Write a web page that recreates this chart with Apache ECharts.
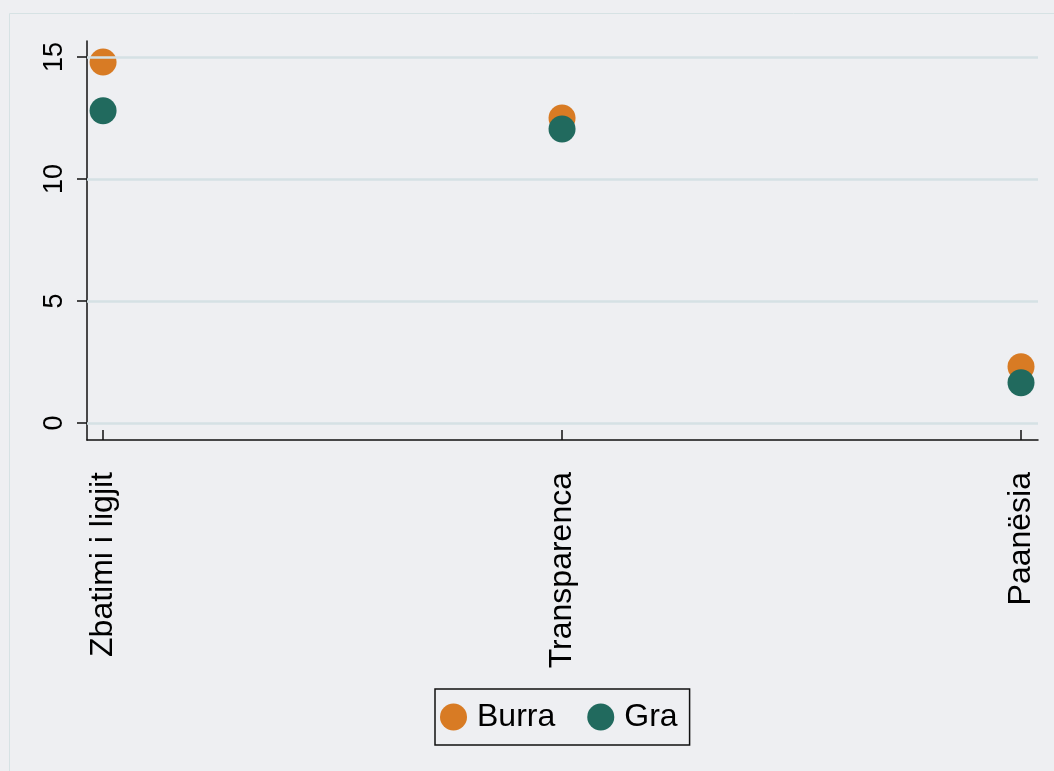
<!DOCTYPE html>
<html>
<head>
<meta charset="utf-8">
<title>Burra / Gra</title>
<script src="https://cdn.jsdelivr.net/npm/echarts@6/dist/echarts.min.js"></script>
<style>
  html, body { margin: 0; padding: 0; background: #eeeff2; }
  #chart { width: 1054px; height: 771px; }
</style>
</head>
<body>
<div id="chart"></div>
<script>
const categories = ['Zbatimi i ligjit', 'Transparenca', 'Paanësia']
const burra = [14.8, 12.5, 2.3]
const gra = [12.8, 12.05, 1.65]
const yTicks = [0, 5, 10, 15]

const font = '"Liberation Sans", Arial, Helvetica, sans-serif'
const orange = '#d87b24'
const green = '#216a5e'

// x is a value axis so the points sit just inside the plot edges
const toPoints = vals => vals.map((v, i) => [i, v])

const chart = echarts.init(document.getElementById('chart'))
chart.setOption({
  backgroundColor: '#eeeff2',
  animation: false,
  textStyle: { fontFamily: font },
  graphic: [{
    type: 'rect',
    silent: true,
    shape: { x: 9.5, y: 13.5, width: 1100, height: 800 },
    style: { fill: 'none', stroke: '#d6e2e4', lineWidth: 1 }
  }],
  grid: { left: 87, right: 16, top: 41, bottom: 331 },
  xAxis: {
    type: 'value',
    min: -0.035,
    max: 2.037,
    splitLine: { show: false },
    axisLine: { show: true, onZero: false, lineStyle: { color: '#111', width: 1.5 } },
    axisTick: { show: true, inside: true, length: 10, customValues: [0, 1, 2], lineStyle: { color: '#111', width: 1.5 } },
    axisLabel: {
      customValues: [0, 1, 2],
      rotate: 90,
      margin: 32,
      fontSize: 32,
      color: '#000',
      fontFamily: font,
      formatter: v => categories[Math.round(v)] || ''
    }
  },
  yAxis: {
    type: 'value',
    min: -0.7,
    max: 15.66,
    splitLine: { show: false },
    axisLine: { show: true, onZero: false, lineStyle: { color: '#111', width: 1.5 } },
    axisTick: { show: true, length: 10, customValues: yTicks, lineStyle: { color: '#111', width: 1.5 } },
    axisLabel: {
      customValues: yTicks,
      rotate: 90,
      margin: 19,
      fontSize: 27,
      color: '#000',
      fontFamily: font
    }
  },
  legend: {
    data: ['Burra', 'Gra'],
    left: 435,
    top: 689,
    orient: 'horizontal',
    icon: 'circle',
    itemWidth: 27,
    itemHeight: 27,
    itemGap: 32,
    padding: [12, 12, 12, 5],
    borderColor: '#111',
    borderWidth: 1.5,
    textStyle: { fontSize: 32, color: '#000', fontFamily: font, padding: [0, 0, 0, 5] }
  },
  series: [
    {
      // grid lines at the y ticks
      type: 'scatter',
      name: 'grid',
      data: [],
      z: 1,
      silent: true,
      markLine: {
        silent: true,
        symbol: 'none',
        label: { show: false },
        lineStyle: { color: '#d5e1e4', width: 2.5, type: 'solid' },
        data: yTicks.map(v => ({ yAxis: v }))
      }
    },
    {
      type: 'scatter',
      name: 'Burra',
      z: 3,
      symbolSize: 27,
      itemStyle: { color: orange, opacity: 1 },
      data: toPoints(burra)
    },
    {
      type: 'scatter',
      name: 'Gra',
      z: 4,
      symbolSize: 27,
      itemStyle: { color: green, opacity: 1 },
      data: toPoints(gra)
    }
  ]
})
</script>
</body>
</html>
